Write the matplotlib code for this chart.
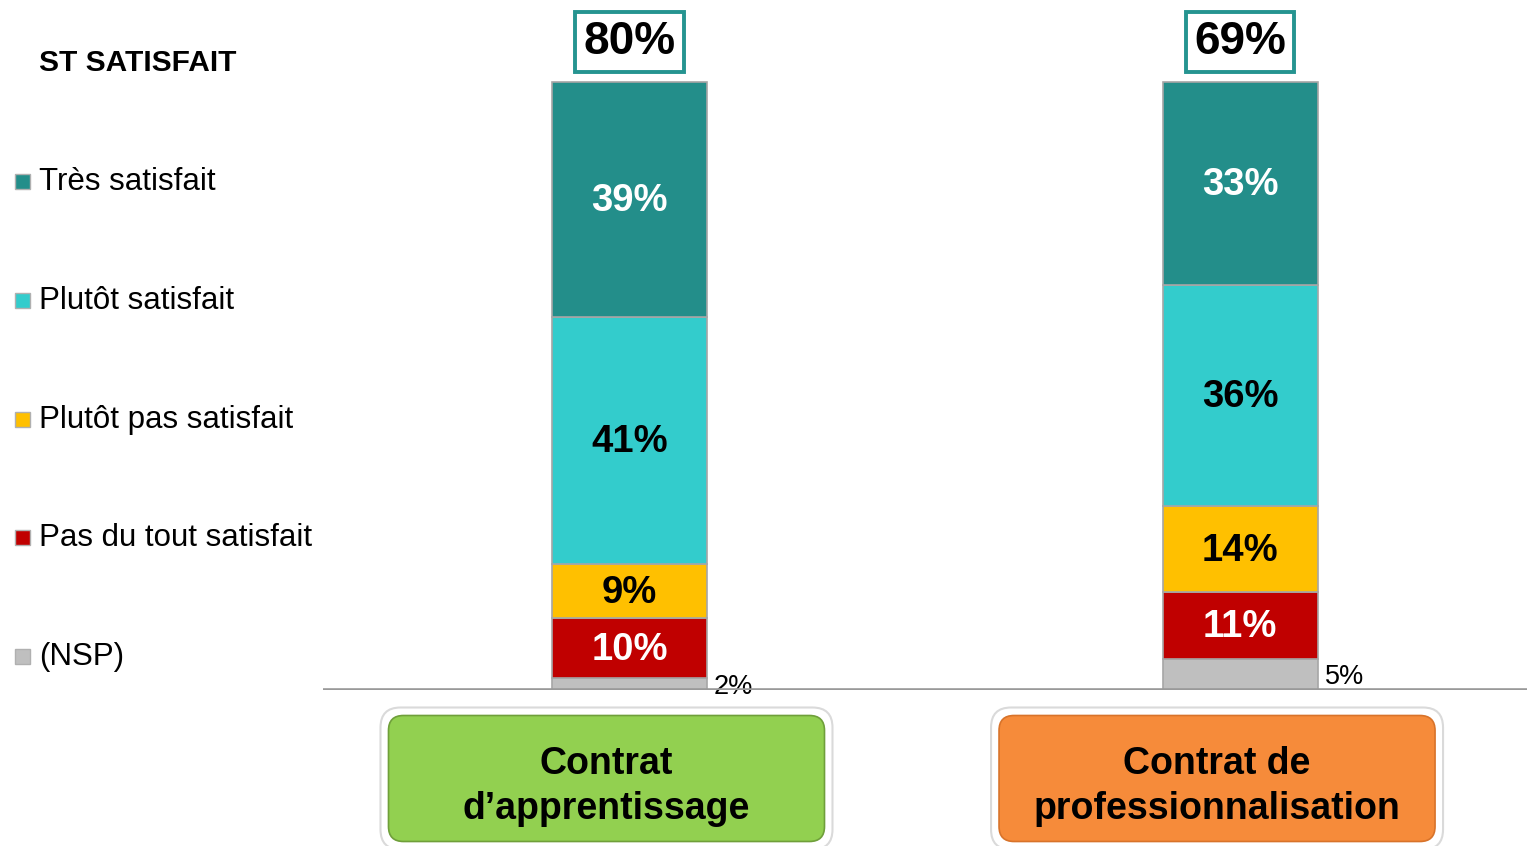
import matplotlib
matplotlib.use("Agg")
import matplotlib.pyplot as plt
from matplotlib.patches import FancyBboxPatch, Rectangle
import numpy as np

plt.rcParams['font.family'] = ['Liberation Sans', 'DejaVu Sans']

# data
contrats = ["Contrat\nd\u2019apprentissage", "Contrat de\nprofessionnalisation"]
niveaux = ["Très satisfait", "Plutôt satisfait", "Plutôt pas satisfait",
           "Pas du tout satisfait", "(NSP)"]
tres = [39, 33]
plutot = [41, 36]
plutot_pas = [9, 14]
pas_du_tout = [10, 11]
nsp = [2, 5]
st_satisfait = [80, 69]

couleurs = ["#238E8A", "#33CCCC", "#FFC000", "#C00000", "#BFBFBF"]
couleurs_txt = ["white", "black", "black", "white", "black"]
couleurs_box = ["#92D050", "#F68B3A"]

fig = plt.figure(figsize=(15.27, 8.46), dpi=100)
ax = fig.add_axes([323 / 1527, 156 / 846, 1204 / 1527, 690 / 846])
ax.set_xlim(-0.502, 1.470)
ax.set_ylim(0, 113.5)
ax.axis('off')

x = np.arange(len(contrats))
largeur = 0.254
series = np.array([nsp, pas_du_tout, plutot_pas, plutot, tres], dtype=float)
# chaque barre ramenee a 100 %
norm = series / series.sum(axis=0) * 100
cols = couleurs[::-1]
tcols = couleurs_txt[::-1]

bas = np.zeros(len(contrats))
for i in range(len(series)):
    ax.bar(x, norm[i], largeur, bottom=bas, color=cols[i],
           edgecolor="#A6A6A6", linewidth=1.2, zorder=2)
    for j in range(len(contrats)):
        val = int(series[i][j])
        if i == 0:
            ax.annotate(f"{val}%", (x[j] + largeur / 2, bas[j] + norm[i][j] / 2),
                        xytext=(5, -2), textcoords="offset points",
                        ha="left", va="center", fontsize=19.5, color="black")
        else:
            ax.text(x[j], bas[j] + norm[i][j] / 2 - 0.3, f"{val}%", ha="center",
                    va="center", fontsize=27.5, fontweight="bold", color=tcols[i])
    bas += norm[i]

ax.axhline(0, color="#999999", linewidth=2.6, zorder=3)

# totaux satisfaits
for j in range(len(contrats)):
    ax.annotate(f"{st_satisfait[j]}%", (x[j], 100), xytext=(0, 29),
                textcoords="offset points", ha="center", va="center",
                fontsize=33, fontweight="bold",
                bbox=dict(boxstyle="square,pad=0.18", fc="white",
                          ec="#259490", lw=2.8))

# legende
fig.text(39 / 1527, 1 - 63 / 846, "ST SATISFAIT", fontsize=21.5,
         fontweight="bold", va="center", ha="left")
for k, nom in enumerate(niveaux):
    yc = 182 + k * 118.8
    fig.patches.append(Rectangle((15 / 1527, 1 - (yc + 7) / 846), 15 / 1527, 15 / 846,
                                 transform=fig.transFigure, fc=couleurs[k],
                                 ec="#B0B0B0", lw=1))
    fig.text(39 / 1527, 1 - yc / 846, nom, fontsize=22.5, va="center", ha="left")

# boites des categories
dpi = fig.dpi
for j in range(len(contrats)):
    cx = ax.transData.transform((x[j], 0))[0] / dpi - 0.23
    w, h = 4.36, 1.26
    y0 = 0.045
    outer = FancyBboxPatch((cx - w / 2 - 0.08, y0 - 0.08), w + 0.16, h + 0.16,
                           boxstyle="round,pad=0,rounding_size=0.2",
                           fc="white", ec="#DADADA", lw=1.5,
                           transform=fig.dpi_scale_trans)
    inner = FancyBboxPatch((cx - w / 2, y0), w, h,
                           boxstyle="round,pad=0,rounding_size=0.15",
                           fc=couleurs_box[j], ec="#6F9F3A" if j == 0 else "#D8732A",
                           lw=1.2, transform=fig.dpi_scale_trans)
    fig.patches.append(outer)
    fig.patches.append(inner)
    fig.text(cx, y0 + h / 2 - 0.08, contrats[j], transform=fig.dpi_scale_trans,
             ha="center", va="center", fontsize=27, fontweight="bold",
             linespacing=1.3)

fig.savefig("out.png", dpi=100)
